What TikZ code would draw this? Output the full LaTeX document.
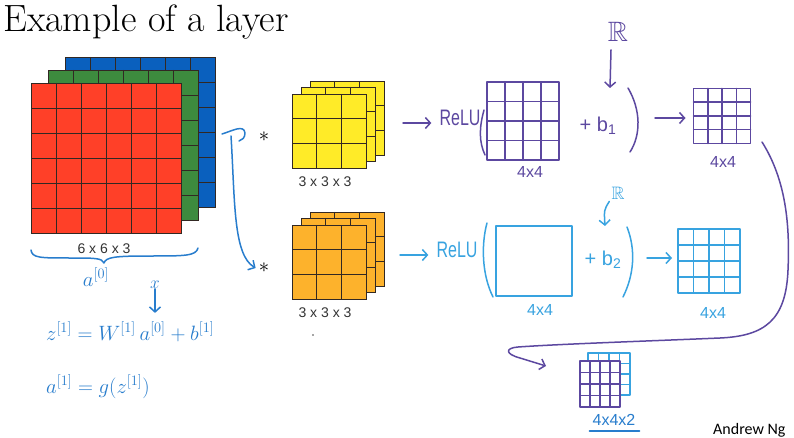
\documentclass[tikz,border=0pt]{standalone}
\usepackage{fontspec}
\usepackage{amssymb}
\usetikzlibrary{calc,arrows.meta}
\newfontfamily\labfont{Liberation Sans}
\newfontfamily\hand{Liberation Sans}
\newfontfamily\sigfont{Carlito}
\definecolor{cred}{RGB}{255,64,40}
\definecolor{cgreen}{RGB}{61,139,62}
\definecolor{cblue}{RGB}{10,96,190}
\definecolor{cyel}{RGB}{255,235,40}
\definecolor{corange}{RGB}{253,178,44}
\definecolor{hblue}{RGB}{40,125,205}
\definecolor{hcyan}{RGB}{56,163,224}
\definecolor{hpurple}{RGB}{92,72,160}
\definecolor{gline}{RGB}{50,40,35}
\newcommand{\gridin}[4][]{%
  \foreach \k in {#3} {%
    \draw[#1] ($(#2.north west)!\k/#4!(#2.north east)$) -- ($(#2.south west)!\k/#4!(#2.south east)$);
    \draw[#1] ($(#2.north west)!\k/#4!(#2.south west)$) -- ($(#2.north east)!\k/#4!(#2.south east)$);
  }}
\tikzset{
  face/.style={draw=gline, line width=0.9pt, minimum size=#1, inner sep=0pt, outer sep=0pt},
  facegrid/.style={draw=gline, line width=0.9pt},
  ink/.style={line width=1.5pt, line cap=round, line join=round},
  harrow/.style={ink, -{Straight Barb[length=5pt,width=11pt]}},
  dimlabel/.style={font=\labfont\fontsize{14}{14}\selectfont, text=black!80, inner sep=0pt},
  handtxt/.style={font=\hand\fontsize{16}{16}\selectfont, inner sep=0pt},
  mat/.style={ink, inner sep=0pt, outer sep=0pt},
  startxt/.style={font=\fontsize{22}{22}\selectfont, inner sep=0pt},
  eqtxt/.style={text=hblue, font=\fontsize{22.5}{24}\selectfont, inner sep=0pt, anchor=base west},
}
\begin{document}
\begin{tikzpicture}[x=1pt,y=-1pt]
\fill[white] (0,0) rectangle (794,438);
\useasboundingbox (0,0) rectangle (794,438);
% title
\node[anchor=base west, font=\fontsize{38}{42}\selectfont, inner sep=0pt] (title) at (3,32) {Example of a layer};
% input volume
\node[face=150pt, fill=cblue] (bluef) at (140,132) {};
\gridin[facegrid]{bluef}{1,2,3,4,5}{6}
\node[face=150pt, fill=cgreen] (greenf) at (123,145) {};
\gridin[facegrid]{greenf}{1,2,3,4,5}{6}
\node[face=150pt, fill=cred] (redf) at (106,158) {};
\gridin[facegrid]{redf}{1,2,3,4,5}{6}
\node[dimlabel] (dim1) at (104,249) {6 x 6 x 3};
% brace and a0
\draw[ink, hblue] (31,250) .. controls (32,258) and (40,258) .. (70,258)
  .. controls (95,258) and (102,258) .. (104,263)
  .. controls (106,257) and (115,256) .. (150,256)
  .. controls (185,256) and (196,256) .. (198,248);
\node[text=hblue, font=\fontsize{22}{22}\selectfont] (a0lab) at (96,277) {$a^{[0]}$};
% yellow filter
\node[face=74pt, fill=cyel] (y3) at (347,118) {};
\gridin[facegrid]{y3}{1,2}{3}
\node[face=74pt, fill=cyel] (y2) at (338,124) {};
\gridin[facegrid]{y2}{1,2}{3}
\node[face=74pt, fill=cyel] (y1) at (329,131) {};
\gridin[facegrid]{y1}{1,2}{3}
\node[dimlabel] (dim2) at (325,182) {3 x 3 x 3};
% orange filter
\node[face=74pt, fill=corange] (o3) at (347,249) {};
\gridin[facegrid]{o3}{1,2}{3}
\node[face=74pt, fill=corange] (o2) at (338,255) {};
\gridin[facegrid]{o2}{1,2}{3}
\node[face=74pt, fill=corange] (o1) at (329,262) {};
\gridin[facegrid]{o1}{1,2}{3}
\node[dimlabel] (dim3) at (325,313) {3 x 3 x 3};
\node[circle, fill=black!70, inner sep=0.7pt] (dot) at (313,335) {};
% stars
\node[startxt] (s1) at (264,137) {$\ast$};
\node[startxt] (s2) at (264,268) {$\ast$};
% fork connector
\coordinate (fork) at (231,136);
\coordinate (forkin) at (222,134);
\draw[ink, hblue] (forkin) .. controls (232,131) and (244,124) .. (245,133) .. controls (245,138) and (242,140) .. (239,141);
\draw[harrow, hblue] (fork) .. controls (235,200) and (233,255) .. ([xshift=-3pt]s2.west);
% ---- purple branch
\node[handtxt, text=hpurple] (relu1) at (460,118) {\scalebox{1}[1.4]{ReLU}};
\coordinate (in1) at (403,123);
\draw[harrow, hpurple, shorten >=8pt] (in1) -- (in1 -| relu1.west);
\draw[ink, hpurple] (484,110) .. controls (479,128) and (479,142) .. (485,155);
\node[mat, draw=hpurple, minimum width=72pt, minimum height=78pt] (m1) at (523,121) {};
\gridin[ink, hpurple]{m1}{1,2,3}{4}
\node[handtxt, text=hpurple] (lab1) at (530,172) {4x4};
\node[handtxt, text=hpurple, font=\hand\fontsize{20}{20}\selectfont] (plus1) at (598,126) {+ b\textsubscript{1}};
\draw[ink, hpurple] (628,88) .. controls (641,110) and (641,135) .. (630,152);
\node[text=hpurple, font=\fontsize{28}{28}\selectfont, inner sep=0pt] (R1) at (618,32) {$\mathbb{R}$};
\coordinate (bend1) at (610,88);
\draw[harrow, hpurple] ($(R1.south)+(-7,8)$) -- (bend1);
\node[mat, draw=hpurple, minimum width=57pt, minimum height=55pt] (m2) at (722,116) {};
\gridin[ink, hpurple]{m2}{1,2,3}{4}
\coordinate (in2) at (655,118);
\draw[harrow, hpurple, shorten >=8pt] (in2) -- (in2 -| m2.west);
\node[handtxt, text=hpurple] (lab2) at (723,162) {4x4};
% ---- cyan branch
\node[handtxt, text=hcyan] (relu2) at (457,250) {\scalebox{1}[1.4]{ReLU}};
\coordinate (in3) at (400,255);
\draw[harrow, hcyan, shorten >=8pt] (in3) -- (in3 -| relu2.west);
\draw[ink, hcyan] (487,223) .. controls (481,245) and (482,275) .. (493,297);
\node[mat, draw=hcyan, minimum width=76pt, minimum height=70pt] (m3) at (534,261) {};
\node[handtxt, text=hcyan] (lab3) at (540,310) {4x4};
\node[handtxt, text=hcyan, font=\hand\fontsize{20}{20}\selectfont] (plus2) at (603,260) {+ b\textsubscript{2}};
\draw[ink, hcyan] (627,227) .. controls (636,250) and (634,275) .. (623,297);
\node[text=hcyan, font=\fontsize{18}{18}\selectfont, inner sep=0pt] (R2) at (618,193) {$\mathbb{R}$};
\coordinate (bend2) at (605,226);
\draw[harrow, hcyan] ($(R2.south west)+(-2,2)$) .. controls (604,210) .. (bend2);
\node[mat, draw=hcyan, minimum width=62pt, minimum height=64pt] (m4) at (709,261) {};
\gridin[ink, hcyan]{m4}{1,2,3}{4}
\coordinate (in4) at (647,258);
\draw[harrow, hcyan, shorten >=6pt] (in4) -- (in4 -| m4.west);
\node[handtxt, text=hcyan] (lab4) at (713,313) {4x4};
% ---- output volume
\node[mat, draw=hcyan, minimum width=42pt, minimum height=42pt] (outb) at (609,374) {};
\gridin[ink, hcyan]{outb}{1,2,3}{4}
\node[mat, draw=hpurple, fill=white, minimum width=40pt, minimum height=46pt] (outf) at (600,384) {};
\gridin[ink, hpurple]{outf}{1,2,3}{4}
\node[handtxt, text=hblue] (lab5) at (614,420) {4x4x2};
\draw[ink, hblue] ($(lab5.south west)+(-3,5)$) -- ($(lab5.south east)+(4,5)$);
% long purple connector
\coordinate (lstart) at (762,142);
\coordinate (oend) at (546,366);
\draw[harrow, hpurple] (lstart) .. controls (786,180) and (790,225) .. (788,270)
  .. controls (786,320) and (765,336) .. (720,338)
  .. controls (650,341) and (560,344) .. (518,347)
  .. controls (505,348) and (505,354) .. (520,358) -- (oend);
% formulas
\node[eqtxt] (e1) at (46,340) {$z^{[1]}=W^{[1]}$};
\node[eqtxt] (e2) at (e1.base east) {$\,a^{[0]}$};
\node[eqtxt] (e3) at (e2.base east) {${}+b^{[1]}$};
\node[text=hblue, font=\fontsize{18}{18}\selectfont, inner sep=0pt] (xin) at (155,285) {$x$};
\draw[harrow, hblue] (xin.south) -- ($(xin.south)+(0,24)$);
\node[eqtxt] (f1) at (46,393) {$a^{[1]}=g(z^{[1]})$};
% signature
\node[font=\sigfont\fontsize{16}{16}\selectfont, anchor=base west, inner sep=0pt] (sig) at (713,434) {Andrew Ng};
\end{tikzpicture}
\end{document}
